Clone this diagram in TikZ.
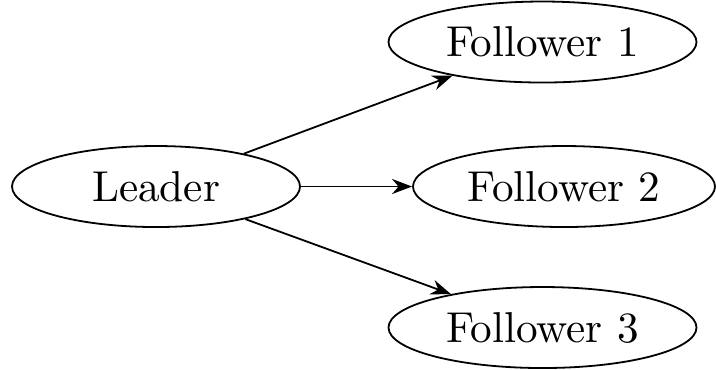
\documentclass[tikz,border=0pt]{standalone}
\usetikzlibrary{arrows.meta,shapes.geometric}
\begin{document}
\begin{tikzpicture}[x=0.25pt,y=-0.25pt,line width=0.45pt,
  role/.style={draw,ellipse,inner sep=0pt,minimum height=20.25pt,font=\fontsize{10.8}{13}\selectfont},
  link/.style={-Stealth}]
\useasboundingbox (0,0) rectangle (716,369);
\node[role,minimum width=72pt] (leader) at (156,186.5) {Leader};
\node[role,minimum width=77pt] (f1) at (542.5,42) {Follower 1};
\node[role,minimum width=75.5pt] (f2) at (564,186.5) {Follower 2};
\node[role,minimum width=77pt] (f3) at (542.5,327.5) {Follower 3};
\draw[link] (leader) -- (f1);
\draw[link] (leader) -- (f2);
\draw[link] (leader) -- (f3);
\end{tikzpicture}
\end{document}
